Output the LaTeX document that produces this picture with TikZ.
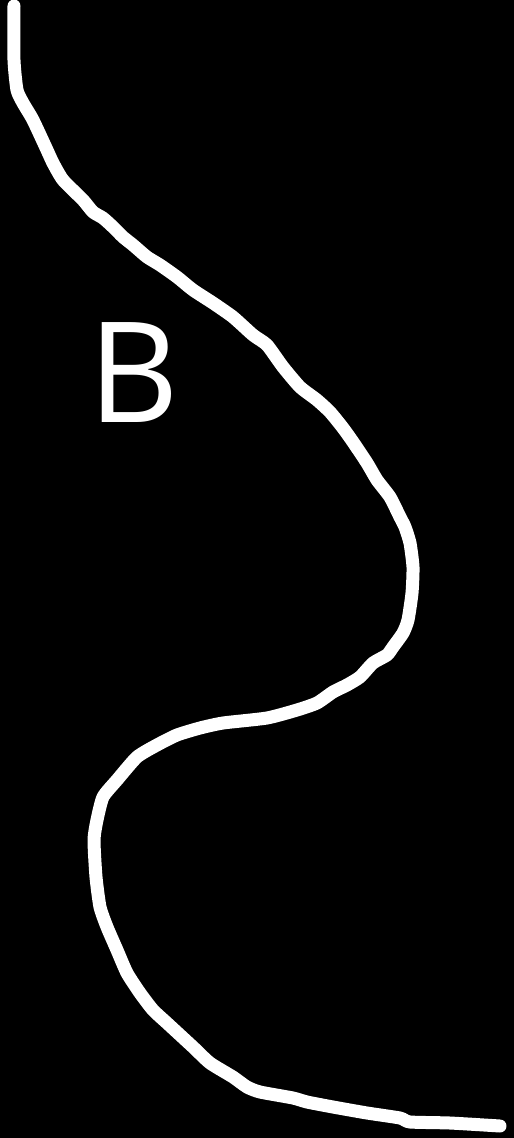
\documentclass[tikz,border=0pt]{standalone}
\usepackage{fontspec}
\setmainfont{Open Sans}
\begin{document}
\begin{tikzpicture}[x=1pt,y=-1pt,
  curve/.style={draw=white,line width=13pt,line cap=round,line join=round},
  lbl/.style={text=white,inner sep=0pt,font=\fontsize{140}{140}\selectfont}]
\fill[black] (0,0) rectangle (514,1138);
\useasboundingbox (0,0) rectangle (514,1138);
\draw[curve] plot[smooth,tension=0.35] coordinates {
(14,6) (14,60) (17,90) (23,103) (33,120) (47,150) (53,163) (63,180) (83,200)
(93,212) (103,218) (113,227) (123,237) (133,245) (147,257) (160,265) (177,277)
(193,290) (213,303) (233,317) (253,335) (267,345) (283,367) (300,387) (317,400)
(330,412) (343,428) (353,442) (367,463) (377,480) (390,497) (400,517) (405,527)
(410,543) (413,567) (412,593) (408,620) (403,633) (393,647) (387,655) (373,663)
(360,677) (347,685) (333,692) (317,703) (297,710) (267,718) (223,723) (200,728)
(177,735) (157,745) (137,757) (117,780) (103,797) (97,820) (94,840) (96,877)
(100,907) (107,927) (117,950) (127,973) (140,993) (153,1010) (167,1023)
(193,1047) (210,1063) (233,1077) (247,1087) (260,1092) (293,1098) (307,1102)
(333,1107) (367,1113) (400,1118) (410,1122) (450,1123) (500,1126)};
\node[lbl,anchor=base] (b) at (134,422) {B};
\end{tikzpicture}
\end{document}
